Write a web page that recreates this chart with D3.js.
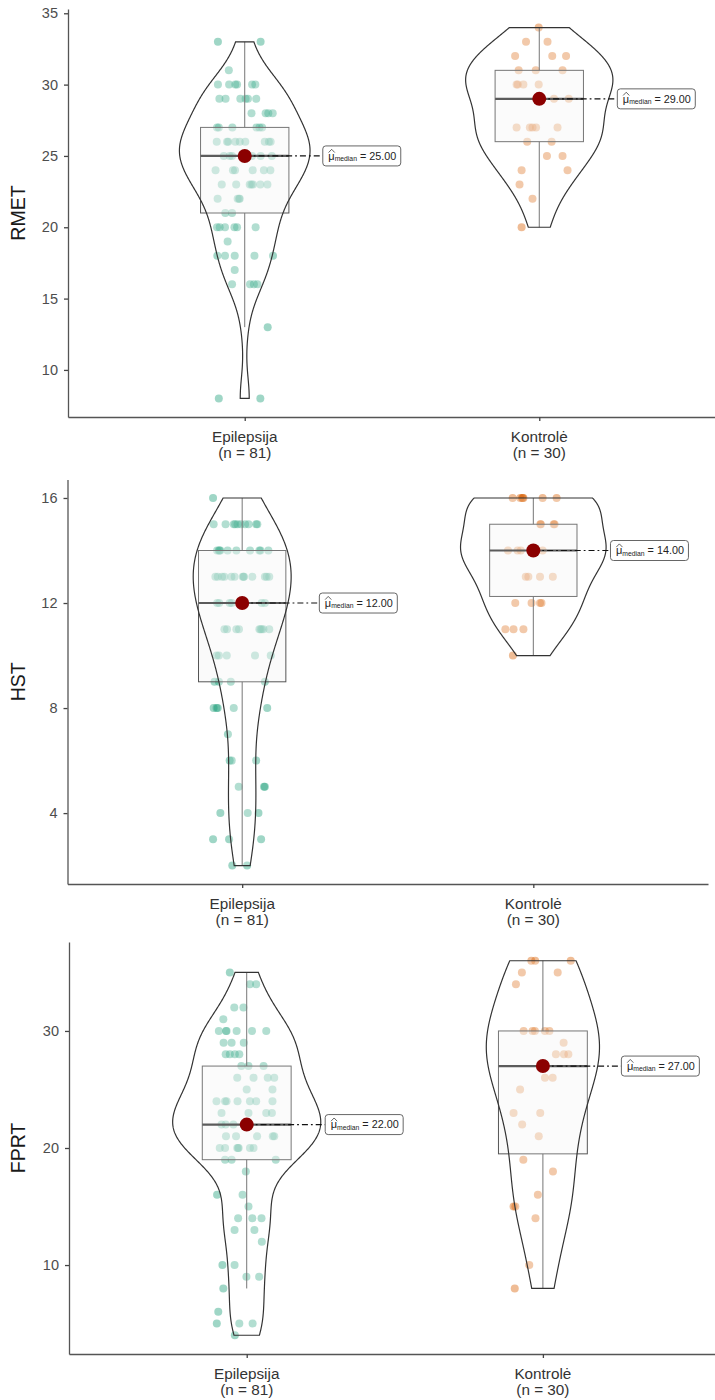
<!DOCTYPE html>
<html>
<head>
<meta charset="utf-8">
<script src="https://cdn.jsdelivr.net/npm/d3@7"></script>
<style>
  body { margin: 0; background: #fff; }
  svg { display: block; }
  text { font-family: "Liberation Sans", Arial, sans-serif; }
</style>
</head>
<body>
<svg id="chart" width="715" height="1400"></svg>
<script>
const groups = ["Epilepsija", "Kontrolė"];
const colors = ["#1B9E77", "#D95F02"];

// [score, jitter offset in category units]
const rmetEpi = [
  [33,-0.091],[33,0.054],[31,-0.054],
  [30,-0.091],[30,-0.053],[30,-0.032],[30,-0.026],[30,0.025],[30,0.036],
  [29,-0.086],[29,-0.065],[29,-0.015],[29,0.003],[29,0.011],[29,0.039],
  [28,0.023],[28,0.071],[28,0.080],[28,0.095],
  [27,-0.094],[27,-0.088],[27,-0.042],[27,0.040],[27,0.050],[27,0.059],
  [26,-0.095],[26,-0.060],[26,-0.056],[26,-0.032],[26,-0.017],[26,0.002],[26,0.068],[26,0.082],[26,0.088],
  [25,-0.071],[25,-0.051],[25,-0.043],[25,0.000],[25,0.006],[25,0.025],[25,0.054],[25,0.092],
  [24,-0.099],[24,-0.040],[24,-0.033],[24,0.027],[24,0.065],[24,0.087],
  [23,-0.078],[23,-0.029],[23,0.017],[23,0.023],[23,0.028],[23,0.053],[23,0.077],
  [22,-0.092],[22,-0.024],[22,-0.019],[22,-0.017],
  [21,-0.066],[21,-0.043],
  [20,-0.094],[20,-0.085],[20,-0.067],[20,-0.035],[20,-0.026],[20,0.037],
  [19,-0.058],
  [18,-0.093],[18,-0.067],[18,-0.034],[18,0.033],[18,0.096],
  [17,-0.034],
  [16,-0.043],[16,0.018],[16,0.031],[16,0.043],
  [13,0.078],
  [8,-0.088],[8,0.053]
];
const rmetKon = [
  [34,-0.002],[33,-0.045],[33,0.028],
  [32,-0.082],[32,0.044],[32,0.091],
  [31,-0.070],[31,-0.012],[31,0.079],
  [30,-0.077],[30,-0.073],[30,-0.054],[30,-0.002],
  [29,0.002],[29,0.050],[29,0.100],
  [27,-0.077],[27,-0.032],[27,-0.023],[27,-0.011],[27,0.062],
  [26,-0.041],[26,0.042],
  [25,0.026],[25,0.079],
  [24,-0.060],[24,0.096],
  [23,-0.067],[22,-0.023],[20,-0.060]
];
const hstEpi = [
  [16,-0.100],
  [15,-0.098],[15,-0.057],[15,-0.029],[15,-0.024],[15,-0.016],[15,-0.005],[15,0.010],[15,0.022],[15,0.048],[15,0.052],
  [14,-0.086],[14,-0.080],[14,-0.078],[14,-0.075],[14,-0.050],[14,-0.020],[14,0.027],[14,0.059],[14,0.063],[14,0.090],
  [13,-0.092],[13,-0.084],[13,-0.069],[13,-0.061],[13,-0.037],[13,-0.026],[13,0.002],[13,0.005],[13,0.006],[13,0.035],[13,0.078],[13,0.084],[13,0.093],
  [12,-0.086],[12,-0.079],[12,-0.043],[12,-0.036],[12,-0.005],[12,0.000],[12,0.007],[12,0.067],[12,0.078],
  [11,-0.061],[11,-0.052],[11,-0.020],[11,-0.011],[11,0.059],[11,0.063],[11,0.067],[11,0.073],[11,0.093],
  [10,-0.088],[10,-0.080],[10,-0.053],[10,0.044],[10,0.098],
  [9,-0.095],[9,-0.080],[9,-0.039],[9,0.078],
  [8,-0.098],[8,-0.088],[8,-0.084],[8,-0.029],[8,0.086],
  [7,-0.049],
  [6,-0.043],[6,-0.036],[6,0.048],
  [5,-0.012],[5,0.075],[5,0.078],
  [4,-0.075],[4,0.019],[4,0.056],
  [3,-0.100],[3,-0.045],[3,0.065],
  [2,-0.034],[2,0.017]
];
const hstKon = [
  [16,-0.071],[16,-0.045],[16,-0.039],[16,-0.036],[16,-0.034],[16,0.032],[16,0.080],
  [15,0.024],[15,0.026],[15,0.070],[15,0.073],
  [14,-0.087],[14,-0.054],[14,-0.043],[14,-0.005],[14,0.000],[14,0.005],[14,0.032],
  [13,-0.026],[13,-0.017],[13,0.023],[13,0.067],
  [12,-0.062],[12,-0.006],[12,0.023],[12,0.028],
  [11,-0.096],[11,-0.068],[11,-0.034],
  [10,-0.070]
];
const fprtEpi = [
  [35,-0.057],[34,0.011],[34,0.032],[32,-0.042],[32,-0.011],[31,-0.079],
  [30,-0.094],[30,-0.070],[30,-0.068],[30,-0.034],[30,0.018],[30,0.066],
  [29,-0.078],[29,-0.051],[29,-0.010],
  [28,-0.071],[28,-0.057],[28,-0.040],[28,-0.025],
  [27,-0.018],[27,0.006],[27,0.057],
  [26,-0.032],[26,0.023],[26,0.071],[26,0.093],
  [25,0.000],[25,0.087],
  [24,-0.102],[24,-0.073],[24,-0.068],[24,-0.031],[24,0.011],[24,0.032],[24,0.087],
  [23,-0.085],[23,0.006],[23,0.066],[23,0.085],
  [22,-0.085],[22,-0.071],[22,-0.045],[22,-0.006],[22,0.000],[22,0.005],[22,0.010],
  [21,-0.070],[21,-0.036],[21,0.035],[21,0.088],[21,0.093],
  [20,-0.091],[20,-0.073],[20,-0.032],[20,-0.029],[20,-0.027],[20,0.011],[20,0.023],
  [19,-0.073],[19,-0.051],[19,0.098],
  [18,-0.003],
  [16,-0.100],[16,-0.014],
  [15,0.006],
  [14,-0.029],[14,0.019],[14,0.050],
  [13,-0.041],[13,0.026],
  [12,0.051],
  [10,-0.082],[10,-0.041],
  [9,-0.001],[9,0.042],
  [8,-0.079],
  [6,-0.096],
  [5,-0.101],[5,-0.025],[5,0.020],
  [4,-0.040]
];
const fprtKon = [
  [36,-0.039],[36,-0.026],[36,0.094],
  [35,-0.071],[35,0.050],
  [34,-0.091],
  [30,-0.065],[30,-0.035],[30,-0.027],[30,0.007],[30,0.022],
  [29,0.070],
  [28,0.044],[28,0.071],[28,0.086],
  [26,0.007],[26,0.033],
  [25,-0.077],
  [23,-0.099],[23,-0.009],
  [22,-0.070],[21,-0.014],[19,-0.066],[18,0.034],[16,-0.017],
  [15,-0.099],[15,-0.093],
  [14,-0.025],[10,-0.046],[8,-0.095]
];

const rmetTicks = [10, 15, 20, 25, 30, 35];
const hstTicks = [4, 8, 12, 16];
const fprtTicks = [10, 20, 30];

const panels = [
  { title: "RMET", data: [rmetEpi, rmetKon], ticks: rmetTicks, frame: { left: 68, right: 716, top: 9, bottom: 417 } },
  { title: "HST", data: [hstEpi, hstKon], ticks: hstTicks, frame: { left: 67.5, right: 708, top: 479.6, bottom: 884 } },
  { title: "FPRT", data: [fprtEpi, fprtKon], ticks: fprtTicks, frame: { left: 69, right: 720.6, top: 942, bottom: 1354 } }
];

// gaussian kernel density like R's density() with bw.nrd0, trimmed to data range
function kde(vals, n = 512) {
  const s = vals.slice().sort(d3.ascending);
  const sd = d3.deviation(s);
  const iqr = d3.quantileSorted(s, 0.75) - d3.quantileSorted(s, 0.25);
  let lo = Math.min(sd, iqr / 1.34);
  if (!lo) lo = sd || 1;
  const h = 0.9 * lo * Math.pow(s.length, -0.2);
  const y0 = s[0], y1 = s[s.length - 1];
  const k = 1 / (s.length * h * Math.sqrt(2 * Math.PI));
  return d3.range(n).map(i => {
    const yy = y0 + (y1 - y0) * i / (n - 1);
    return [yy, k * d3.sum(s, v => Math.exp(-0.5 * ((yy - v) / h) ** 2))];
  });
}

const svg = d3.select("#chart");

panels.forEach(p => {
  const f = p.frame;
  const all = p.data.flat().map(d => d[0]);
  const [mn, mx] = d3.extent(all);
  const pad = (mx - mn) * 0.05;

  const y = d3.scaleLinear().domain([mn - pad, mx + pad]).range([f.bottom, f.top]);
  const x = d3.scalePoint().domain(groups).range([f.left, f.right]).padding(0.6);
  const step = x.step();

  const g = svg.append("g");

  const dens = p.data.map(arr => kde(arr.map(d => d[0])));
  const maxD = d3.max(dens, ds => d3.max(ds, d => d[1]));
  const vw = d3.scaleLinear().domain([0, maxD]).range([0, 0.25 * step]);

  // jittered points
  p.data.forEach((arr, gi) => {
    const cx = x(groups[gi]);
    g.append("g").selectAll("circle").data(arr).join("circle")
      .attr("cx", d => cx + d[1] * step)
      .attr("cy", d => y(d[0]))
      .attr("r", 4)
      .attr("fill", colors[gi])
      .attr("fill-opacity", 0.42);
  });

  // boxplots
  const stats = p.data.map(arr => {
    const s = arr.map(d => d[0]).sort(d3.ascending);
    const q1 = d3.quantileSorted(s, 0.25), med = d3.quantileSorted(s, 0.5), q3 = d3.quantileSorted(s, 0.75);
    const iqr = q3 - q1;
    const lo = d3.min(s.filter(v => v >= q1 - 1.5 * iqr));
    const hi = d3.max(s.filter(v => v <= q3 + 1.5 * iqr));
    return { q1, med, q3, lo, hi };
  });

  stats.forEach((st, gi) => {
    const cx = x(groups[gi]);
    const bw = 0.3 * step;
    const bg = g.append("g");
    bg.append("line").attr("x1", cx).attr("x2", cx).attr("y1", y(st.q3)).attr("y2", y(st.hi))
      .attr("stroke", "#555").attr("stroke-width", 1);
    bg.append("line").attr("x1", cx).attr("x2", cx).attr("y1", y(st.q1)).attr("y2", y(st.lo))
      .attr("stroke", "#555").attr("stroke-width", 1);
    bg.append("rect").attr("x", cx - bw / 2).attr("width", bw)
      .attr("y", y(st.q3)).attr("height", y(st.q1) - y(st.q3))
      .attr("fill", "#f2f2f2").attr("fill-opacity", 0.4)
      .attr("stroke", "#555").attr("stroke-width", 1);
    bg.append("line").attr("x1", cx - bw / 2).attr("x2", cx + bw / 2)
      .attr("y1", y(st.med)).attr("y2", y(st.med))
      .attr("stroke", "#333").attr("stroke-width", 2.2);
  });

  // violins
  dens.forEach((ds, gi) => {
    const cx = x(groups[gi]);
    const area = d3.area()
      .x0(d => cx - vw(d[1]))
      .x1(d => cx + vw(d[1]))
      .y(d => y(d[0]));
    g.append("path").attr("d", area(ds))
      .attr("fill", "#fff").attr("fill-opacity", 0.2)
      .attr("stroke", "#333").attr("stroke-width", 1.2);
  });

  // median markers and labels
  stats.forEach((st, gi) => {
    const cx = x(groups[gi]);
    const ym = y(st.med);
    const lx = cx + 0.265 * step;
    g.append("line").attr("x1", cx).attr("x2", lx).attr("y1", ym).attr("y2", ym)
      .attr("stroke", "#111").attr("stroke-width", 1.2)
      .attr("stroke-dasharray", "6,3,1.8,3");
    g.append("circle").attr("cx", cx).attr("cy", ym).attr("r", 7).attr("fill", "#8B0000");

    const lg = g.append("g").attr("transform", `translate(${lx},${ym})`);
    const rect = lg.append("rect");
    const t = lg.append("text").attr("x", 5.5).attr("y", 3.8).attr("fill", "#222");
    t.append("tspan").attr("font-size", 11).text("μ");
    t.append("tspan").attr("font-size", 6.8).attr("dy", 1.5).text("median");
    t.append("tspan").attr("font-size", 10.8).attr("dy", -1.5).text(" = " + st.med.toFixed(2));
    const w = t.node().getComputedTextLength();
    rect.attr("x", 0).attr("y", -10).attr("width", w + 10).attr("height", 20).attr("rx", 3)
      .attr("fill", "#fff").attr("stroke", "#555").attr("stroke-width", 0.9);
    lg.append("path").attr("d", "M5.8,-3.4L8.9,-6.6L12,-3.4")
      .attr("fill", "none").attr("stroke", "#222").attr("stroke-width", 0.7);
  });

  // axes
  const ya = g.append("g").attr("transform", `translate(${f.left},0)`)
    .call(d3.axisLeft(y).tickValues(p.ticks).tickSize(4).tickSizeOuter(0).tickPadding(6));
  const xa = g.append("g").attr("transform", `translate(0,${f.bottom})`)
    .call(d3.axisBottom(x).tickSize(4).tickSizeOuter(0).tickFormat(""));
  [ya, xa].forEach(a => {
    a.select(".domain").attr("stroke", "#555").attr("stroke-width", 1.3);
    a.selectAll(".tick line").attr("stroke", "#444").attr("stroke-width", 1.3);
  });
  ya.selectAll(".tick text").attr("font-size", 14.5).attr("fill", "#4d4d4d")
    .attr("font-family", "Liberation Sans, Arial, sans-serif");

  groups.forEach((gname, gi) => {
    const tx = g.append("text").attr("text-anchor", "middle").attr("font-size", 15.3).attr("fill", "#333");
    tx.append("tspan").attr("x", x(gname)).attr("y", f.bottom + 25).text(gname);
    tx.append("tspan").attr("x", x(gname)).attr("y", f.bottom + 40.5).text(`(n = ${p.data[gi].length})`);
  });

  g.append("text")
    .attr("transform", `translate(25,${(f.top + f.bottom) / 2}) rotate(-90)`)
    .attr("text-anchor", "middle").attr("font-size", 19.5).attr("fill", "#1a1a1a")
    .text(p.title);
});
</script>
</body>
</html>
